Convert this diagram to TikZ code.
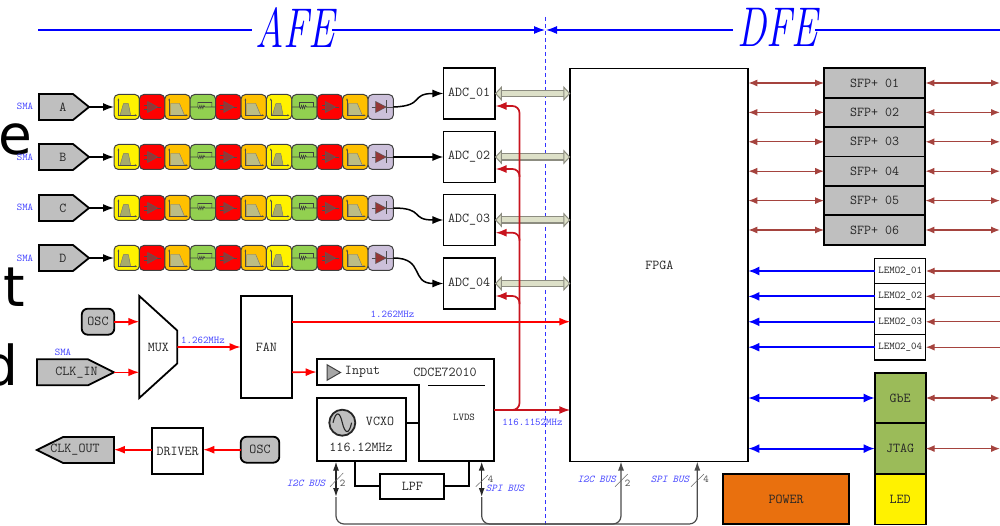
\documentclass[tikz,border=0pt]{standalone}
\usepackage{fontspec}
\usepackage{graphicx}
\usepackage{xcolor}
\usetikzlibrary{arrows.meta, calc, shapes.geometric, shapes.symbols}

\newfontfamily\bigletterfont{DejaVu Sans}

\definecolor{cellorange}{HTML}{FFC000}
\definecolor{cellgreen}{HTML}{92D050}
\definecolor{cellpurple}{HTML}{CCC0DA}
\definecolor{ampred}{HTML}{953735}
\definecolor{linkbrown}{HTML}{A5433E}
\definecolor{adcred}{HTML}{C8141E}
\definecolor{busfill}{HTML}{DDE0C8}
\definecolor{busedge}{HTML}{8C8C80}
\definecolor{boxgray}{HTML}{BFBFBF}
\definecolor{boxgreen}{HTML}{9BBB59}
\definecolor{boxorange}{HTML}{E9700E}
\definecolor{labelblue}{HTML}{4646FF}
\definecolor{bandfill}{HTML}{A6AB6C}
\definecolor{lowfill}{HTML}{BCBD85}

\newcommand{\filterchain}[2]{%
    \node[cellband] (#1f1) at (126.7, #2) {};
    \node[cellamp] (#1f2) at (152.1, #2) {};
    \node[celllow] (#1f3) at (177.5, #2) {};
    \node[cellatt] (#1f4) at (202.9, #2) {};
    \node[cellamp] (#1f5) at (228.3, #2) {};
    \node[celllow] (#1f6) at (253.7, #2) {};
    \node[cellband] (#1f7) at (279.1, #2) {};
    \node[cellatt] (#1f8) at (304.5, #2) {};
    \node[cellamp] (#1f9) at (329.9, #2) {};
    \node[celllow] (#1f10) at (355.3, #2) {};
    \node[cellbalun] (#1f11) at (380.7, #2) {};
}

\begin{document}
\begin{tikzpicture}[
                x = 1pt,
                y = -1pt,
                boxtext/.style = {
                    font = \ttfamily\fontsize{13.6}{14}\selectfont,
                    text = black!85
                },
                smalltext/.style = {
                    font = \ttfamily\fontsize{10.4}{11}\selectfont,
                    text = black!85
                },
                bluetext/.style = {
                    font = \ttfamily\fontsize{10.4}{11}\selectfont,
                    text = labelblue,
                    inner sep = 0pt
                },
                busname/.style = {
                    bluetext,
                    font = \ttfamily\itshape\fontsize{10.4}{11}\selectfont
                },
                buscount/.style = {
                    font = \ttfamily\fontsize{10.4}{11}\selectfont,
                    text = black!70,
                    inner sep = 0pt
                },
                bigletter/.style = {
                    font = \bigletterfont\fontsize{55}{60}\selectfont,
                    anchor = base west,
                    inner sep = 0pt
                },
                titletext/.style = {
                    font = \itshape\fontsize{56}{60}\selectfont,
                    text = blue,
                    inner sep = 0pt
                },
                plainbox/.style = {
                    rectangle,
                    draw = black,
                    fill = white,
                    line width = 1.8pt,
                    inner sep = 0pt,
                    outer sep = 0pt,
                    boxtext
                },
                sfpbox/.style = {
                    plainbox,
                    fill = boxgray,
                    minimum width = 101.3pt,
                    minimum height = 29.4pt
                },
                lemobox/.style = {
                    plainbox,
                    line width = 1.3pt,
                    minimum width = 51pt,
                    minimum height = 25.4pt,
                    smalltext
                },
                stackbox/.style = {
                    plainbox,
                    minimum width = 51pt,
                    minimum height = 50.6pt
                },
                adcbox/.style = {
                    plainbox,
                    minimum width = 51.5pt,
                    minimum height = 51pt
                },
                oscbox/.style = {
                    plainbox,
                    fill = boxgray,
                    rounded corners = 6pt,
                    minimum height = 26pt
                },
                sigbox/.style = {
                    signal,
                    draw = black,
                    fill = boxgray,
                    line width = 1.8pt,
                    inner sep = 0pt,
                    outer sep = 0pt,
                    minimum height = 26pt,
                    boxtext
                },
                sigtext/.style = {boxtext, inner sep = 0pt},
                stagecell/.style = {
                    rectangle,
                    rounded corners = 4.5pt,
                    draw = black!75,
                    line width = 1pt,
                    inner sep = 0pt,
                    outer sep = 0pt,
                    minimum width = 25.4pt,
                    minimum height = 25pt
                },
                iconframe/.style = {sharp corners, shift = {(path picture bounding box.center)}},
                plotaxes/.style = {
                    iconframe,
                    draw = black!70,
                    line width = .5pt,
                    {Latex[length = 2.5pt, width = 2pt]}-{Latex[length = 2.5pt, width = 2pt]}
                },
                cellband/.style = {
                    stagecell,
                    fill = yellow,
                    path picture = {
                        \filldraw[iconframe, fill = bandfill, draw = black!55, line width = .4pt]
                            (-6.7, 8.3) -- (-3.3, -3.3) -- (1.7, -3.3) -- (4, 8.3) -- cycle;
                        \draw[plotaxes] (-8.3, -9) |- (10.7, 8.3);
                    }
                },
                celllow/.style = {
                    stagecell,
                    fill = cellorange,
                    path picture = {
                        \filldraw[iconframe, fill = lowfill, draw = black!55, line width = .4pt]
                            (-7, 8.3) -- (-7, -3.5) -- (2, -3.5) -- (7, 8.3) -- cycle;
                        \draw[plotaxes] (-8.3, -9) |- (10.7, 8.3);
                    }
                },
                cellamp/.style = {
                    stagecell,
                    fill = red,
                    path picture = {
                        \draw[iconframe, black!70, line width = .5pt] (-8, -2) -- (-4.5, -2) (-8, 2) -- (-4.5, 2) (5, 0) -- (9, 0);
                        \filldraw[iconframe, fill = ampred, draw = black!65, line width = .5pt]
                            (-4.5, -5.5) -- (5.5, 0) -- (-4.5, 5.5) -- cycle;
                    }
                },
                cellatt/.style = {
                    stagecell,
                    fill = cellgreen,
                    path picture = {
                        \draw[iconframe, black!75, line width = .6pt]
                            (-13, 0) -- (-5, 0) -- (-4, 1.6) -- (-3, -1.6) -- (-2, 1.6) -- (-1, -1.6) -- (0, 1.6) -- (1, -1.6) -- (2, 0) -- (13, 0)
                            (-5, 0) -- (-5, -4.5) -- (9, -4.5) -- (9, 0);
                    }
                },
                cellbalun/.style = {
                    stagecell,
                    fill = cellpurple,
                    path picture = {
                        \draw[iconframe, black!70, line width = .5pt] (-9, 0) -- (-5, 0) (6, -6.5) -- (6, 6.5) (6, 0) -- (13, 0);
                        \filldraw[iconframe, fill = ampred, draw = black!65, line width = .5pt]
                            (-5, -5.5) -- (5.5, 0) -- (-5, 5.5) -- cycle;
                    }
                },
                rfarrow/.style = {-{Latex[length = 11pt, width = 8pt]}, line width = 1.5pt, black},
                clkarrow/.style = {-{Latex[length = 11pt, width = 8pt]}, line width = 1.6pt, red},
                adcclk/.style = {-{Latex[length = 11pt, width = 8pt]}, line width = 1.7pt, adcred, rounded corners = 7pt},
                datalink/.style = {
                    {Triangle[length = 7pt, width = 15pt, fill = busfill, line width = 1pt]}-{Triangle[length = 7pt, width = 15pt, fill = busfill, line width = 1pt]},
                    draw = busedge,
                    line width = 1.4pt,
                    double = busfill,
                    double distance = 5pt
                },
                brownlink/.style = {
                    {Latex[length = 9pt, width = 7pt]}-{Latex[length = 9pt, width = 7pt]},
                    line width = 1.3pt,
                    linkbrown
                },
                brownin/.style = {
                    -{Latex[length = 9pt, width = 7pt]},
                    line width = 1.3pt,
                    linkbrown
                },
                bluein/.style = {
                    -{Latex[length = 11pt, width = 9pt]},
                    line width = 1.8pt,
                    blue
                },
                bluelink/.style = {
                    {Latex[length = 11pt, width = 9pt]}-{Latex[length = 11pt, width = 9pt]},
                    line width = 1.8pt,
                    blue
                },
                spantip/.style = {
                    -{Latex[length = 11pt, width = 8pt]},
                    line width = 1.2pt,
                    blue
                },
                ctrlend/.style = {
                    {Latex[length = 9pt, width = 6pt]}-{Latex[length = 9pt, width = 6pt]},
                    line width = 1.4pt,
                    black!85
                },
                ctrlbus/.style = {
                    -{Latex[length = 9pt, width = 6pt]},
                    line width = 1.2pt,
                    black!70,
                    rounded corners = 8pt
                },
                busslash/.style = {line width = .5pt, black!60},
                wire/.style = {line width = 1.8pt, black}
            ]

                \useasboundingbox (0, 0) rectangle (1000, 526);

                % letters cut off at the left edge
                \node[bigletter] (lettere) at (-1.4, 155) {e};
                \node[bigletter] (lettert) at (3, 306) {t};
                \node[bigletter] (letterd) at (-16.5, 385) {d};

                % section titles
                \node[titletext] (afe) at (295, 27.5) {\scalebox{0.7}[1]{AFE}};
                \node[titletext] (dfe) at (777.5, 27.5) {\scalebox{0.7}[1]{DFE}};
                \coordinate (afestart) at (38, 30);
                \coordinate (afestop) at (545, 30);
                \coordinate (dfestart) at (546, 30);
                \coordinate (dfestop) at (1000, 30);
                \coordinate (splittop) at (545.5, 17);
                \coordinate (splitbottom) at (545.5, 526);
                \draw[blue, line width = 1.2pt] (afestart) -- (252, 30);
                \draw[spantip] (332, 30) -- (afestop);
                \draw[spantip] (733, 30) -- (dfestart);
                \draw[blue, line width = 1.2pt] (815, 30) -- (dfestop);
                \draw[blue!80, dash pattern = on 4pt off 3pt, line width = .7pt] (splittop) -- (splitbottom);

                % inputs and chains
                \node[bluetext] (smaa) at (25, 106) {SMA};
                \node[bluetext] (smab) at (25, 157) {SMA};
                \node[bluetext] (smac) at (25, 207) {SMA};
                \node[bluetext] (smad) at (25, 258) {SMA};
                \node[sigbox, signal to = east, signal pointer angle = 78, minimum width = 50pt] (inpa) at (56, 107) {};
                \node[sigbox, signal to = east, signal pointer angle = 78, minimum width = 50pt] (inpb) at (56, 157) {};
                \node[sigbox, signal to = east, signal pointer angle = 78, minimum width = 50pt] (inpc) at (56, 208) {};
                \node[sigbox, signal to = east, signal pointer angle = 78, minimum width = 50pt] (inpd) at (56, 258) {};
                \node[sigtext] (inpaname) at (63, 107) {A};
                \node[sigtext] (inpbname) at (63, 157) {B};
                \node[sigtext] (inpcname) at (63, 208) {C};
                \node[sigtext] (inpdname) at (63, 258) {D};

                \filterchain{a}{107}
                \filterchain{b}{157}
                \filterchain{c}{208}
                \filterchain{d}{258}

                \draw[rfarrow] (inpa.east) -- (af1.west);
                \draw[rfarrow] (inpb.east) -- (bf1.west);
                \draw[rfarrow] (inpc.east) -- (cf1.west);
                \draw[rfarrow] (inpd.east) -- (df1.west);

                % ADC column
                \node[adcbox] (adc1) at (469.2, 93.5) {ADC\_01};
                \node[adcbox] (adc2) at (469.2, 157) {ADC\_02};
                \node[adcbox] (adc3) at (469.2, 220) {ADC\_03};
                \node[adcbox] (adc4) at (469.2, 283.5) {ADC\_04};

                \draw[rfarrow] (af11.east) .. controls (425, 106) and (410, 93.5) .. (adc1.west);
                \draw[rfarrow] (bf11.east) -- (adc2.west);
                \draw[rfarrow] (cf11.east) .. controls (425, 208) and (410, 220) .. (adc3.west);
                \draw[rfarrow] (df11.east) .. controls (425, 258) and (410, 283.5) .. (adc4.west);

                % FPGA
                \node[plainbox, minimum width = 178pt, minimum height = 393pt] (fpga) at (659.3, 265) {FPGA};

                \draw[datalink] (adc1.east) -- (adc1.east -| fpga.west);
                \draw[datalink] (adc2.east) -- (adc2.east -| fpga.west);
                \draw[datalink] (adc3.east) -- (adc3.east -| fpga.west);
                \draw[datalink] (adc4.east) -- (adc4.east -| fpga.west);

                % clock section
                \node[oscbox, minimum width = 32.5pt] (osca) at (98, 321.7) {OSC};
                \node[bluetext] (smaclk) at (63, 352.7) {SMA};
                \node[sigbox, signal to = east, signal pointer angle = 53, minimum width = 77pt] (clkin) at (62.5, 372.3) {};
                \node[sigtext] (clkinname) at (76.5, 372.3) {CLK\_IN};
                \node[trapezium, draw = black, fill = white, line width = 1.8pt, inner sep = 0pt, outer sep = 0pt,
                      trapezium angle = 67, shape border rotate = 270, trapezium stretches = true,
                      minimum width = 102pt, minimum height = 38pt, boxtext] (mux) at (158.3, 347) {MUX};
                \node[plainbox, minimum width = 51.3pt, minimum height = 102pt] (fan) at (266.3, 347) {FAN};
                \coordinate (muxina) at (139.3, 321.7);
                \coordinate (muxinb) at (139.3, 372.3);
                \coordinate (fanouta) at (292, 321.7);
                \coordinate (fanoutb) at (292, 372.3);
                \draw[clkarrow] (osca.east) -- (muxina);
                \draw[clkarrow] (clkin.east) -- (muxinb);
                \draw[clkarrow] (mux.east) -- (fan.west);
                \node[bluetext] (muxrate) at (203, 340) {1.262MHz};
                \draw[clkarrow] (fanouta) -- (fanouta -| fpga.west);
                \node[bluetext] (fanrate) at (392.5, 314) {1.262MHz};

                \node[plainbox, minimum width = 51.3pt, minimum height = 46pt] (driver) at (177.6, 451) {DRIVER};
                \node[oscbox, minimum width = 38.6pt] (oscb) at (260, 449.7) {OSC};
                \node[sigbox, signal to = west, signal pointer angle = 53, minimum width = 77pt] (clkout) at (88.5, 450) {};
                \node[sigtext] (clkoutname) at (75, 450) {CLK\_OUT};
                \draw[clkarrow] (oscb.west) -- (oscb.west -| driver.east);
                \draw[clkarrow] (driver.west |- oscb.west) -- (oscb.west -| clkout.east);

                % clock chip
                \draw[wire, fill = white] (316.7, 359.3) -- (494.3, 359.3) -- (494.3, 461.3) -- (418.7, 461.3) -- (418.7, 385) -- (316.7, 385) -- cycle;
                \coordinate (cdcein) at (316.7, 372);
                \coordinate (lvdsout) at (494.3, 410);
                \coordinate (lvdsin) at (418.7, 422.7);
                \coordinate (lvdslpf) at (469, 461.3);
                \draw[clkarrow] (fanoutb) -- (cdcein);
                \draw[black, line width = .6pt] (428, 385) -- (485, 385);
                \node[regular polygon, regular polygon sides = 3, shape border rotate = 270, draw = black!75, fill = black!35, line width = 1pt,
                      inner sep = 0pt, minimum size = 18pt] (inputamp) at (331.5, 372.5) {};
                \node[boxtext, inner sep = 0pt] (inputname) at (362.5, 372) {Input};
                \node[boxtext, inner sep = 0pt] (cdcename) at (445, 372) {CDCE72010};
                \node[smalltext, inner sep = 0pt] (lvdsname) at (464, 417) {LVDS};

                \node[plainbox, minimum width = 89.3pt, minimum height = 63.6pt] (vcxo) at (361.3, 429.5) {};
                \node[circle, draw = black!85, fill = boxgray, line width = 1.8pt, minimum size = 26pt, inner sep = 0pt] (vcxosine) at (342.3, 422.7) {};
                \draw[black!85, line width = 1.1pt] (333, 422.7) .. controls (336, 410) and (340, 412) .. (342.3, 422.7) .. controls (345, 434) and (349, 435) .. (351.6, 422.7);
                \node[boxtext, inner sep = 0pt] (vcxoname) at (380, 421.7) {VCXO};
                \node[boxtext, inner sep = 0pt] (vcxorate) at (361, 447.7) {116.12MHz};
                \draw[wire] (vcxo.east |- lvdsin) -- (lvdsin);

                \node[plainbox, minimum width = 64pt, minimum height = 25pt] (lpf) at (412.3, 486.2) {LPF};
                \coordinate (vcxolpf) at (355, 461.3);
                \draw[wire] (vcxolpf) |- (lpf.west);
                \draw[wire] (lvdslpf) |- (lpf.east);

                % sampling clock to ADCs and FPGA
                \coordinate (clkbus) at (519.5, 410);
                \coordinate (adc1clk) at (495.5, 106);
                \coordinate (adc2clk) at (495.5, 169);
                \coordinate (adc3clk) at (495.5, 232.7);
                \coordinate (adc4clk) at (495.5, 296);
                \draw[adcclk] (lvdsout) -- (clkbus) |- (adc1clk);
                \draw[adcclk] ($(clkbus |- adc2clk) + (0, 8)$) |- (adc2clk);
                \draw[adcclk] ($(clkbus |- adc3clk) + (0, 8)$) |- (adc3clk);
                \draw[adcclk] ($(clkbus |- adc4clk) + (0, 8)$) |- (adc4clk);
                \draw[adcclk] (lvdsout) -- (lvdsout -| fpga.west);
                \node[bluetext] (lvdsrate) at (532.5, 422.5) {116.1152MHz};

                % control buses
                \coordinate (i2ctop) at (336, 461.5);
                \coordinate (i2cfoot) at (336, 497);
                \coordinate (spitop) at (481.7, 461.5);
                \coordinate (spifoot) at (481.7, 497);
                \coordinate (i2crail) at (621, 524);
                \coordinate (spirail) at (697.3, 524);
                \coordinate (i2cfpga) at (621, 461.5);
                \coordinate (spifpga) at (697.3, 461.5);
                \draw[ctrlend] (i2ctop) -- (i2cfoot);
                \draw[ctrlend] (spitop) -- (spifoot);
                \draw[ctrlbus] (i2cfoot) |- (i2crail) -- (i2cfpga);
                \draw[ctrlbus] (spifoot) |- (spirail) -- (spifpga);

                \draw[busslash] (330, 486.7) -- (343.3, 473);
                \draw[busslash] (475.7, 486.7) -- (488, 475);
                \draw[busslash] (615, 486.7) -- (627.7, 474);
                \draw[busslash] (691, 486.7) -- (704, 474);
                \node[busname] (i2cleft) at (306, 483) {I2C BUS};
                \node[buscount] (i2cleftn) at (342.5, 483) {2};
                \node[busname] (spileft) at (505, 488) {SPI BUS};
                \node[buscount] (spileftn) at (490.7, 479) {4};
                \node[busname] (i2cright) at (596.7, 479.3) {I2C BUS};
                \node[buscount] (i2crightn) at (627.7, 483) {2};
                \node[busname] (spiright) at (670, 479.3) {SPI BUS};
                \node[buscount] (spirightn) at (706, 479.3) {4};

                % SFP column
                \node[sfpbox] (sfp1) at (874.7, 83) {SFP+ 01};
                \node[sfpbox] (sfp2) at (874.7, 112.4) {SFP+ 02};
                \node[sfpbox] (sfp3) at (874.7, 141.8) {SFP+ 03};
                \node[sfpbox] (sfp4) at (874.7, 171.2) {SFP+ 04};
                \node[sfpbox] (sfp5) at (874.7, 200.6) {SFP+ 05};
                \node[sfpbox] (sfp6) at (874.7, 230) {SFP+ 06};
                \coordinate (sfp1edge) at (1000, 83);
                \coordinate (sfp2edge) at (1000, 112.4);
                \coordinate (sfp3edge) at (1000, 141.8);
                \coordinate (sfp4edge) at (1000, 171.2);
                \coordinate (sfp5edge) at (1000, 200.6);
                \coordinate (sfp6edge) at (1000, 230);
                \draw[brownlink] (sfp1.west -| fpga.east) -- (sfp1.west);
                \draw[brownlink] (sfp2.west -| fpga.east) -- (sfp2.west);
                \draw[brownlink] (sfp3.west -| fpga.east) -- (sfp3.west);
                \draw[brownlink] (sfp4.west -| fpga.east) -- (sfp4.west);
                \draw[brownlink] (sfp5.west -| fpga.east) -- (sfp5.west);
                \draw[brownlink] (sfp6.west -| fpga.east) -- (sfp6.west);
                \draw[brownlink] (sfp1.east) -- (sfp1edge);
                \draw[brownlink] (sfp2.east) -- (sfp2edge);
                \draw[brownlink] (sfp3.east) -- (sfp3edge);
                \draw[brownlink] (sfp4.east) -- (sfp4edge);
                \draw[brownlink] (sfp5.east) -- (sfp5edge);
                \draw[brownlink] (sfp6.east) -- (sfp6edge);

                % LEMO column
                \node[lemobox] (lemo1) at (900.2, 271) {LEMO2\_01};
                \node[lemobox] (lemo2) at (900.2, 296.4) {LEMO2\_02};
                \node[lemobox] (lemo3) at (900.2, 321.8) {LEMO2\_03};
                \node[lemobox] (lemo4) at (900.2, 347.2) {LEMO2\_04};
                \coordinate (lemo1edge) at (1000, 271);
                \coordinate (lemo2edge) at (1000, 296.4);
                \coordinate (lemo3edge) at (1000, 321.8);
                \coordinate (lemo4edge) at (1000, 347.2);
                \draw[bluein] (lemo1.west) -- (lemo1.west -| fpga.east);
                \draw[bluein] (lemo2.west) -- (lemo2.west -| fpga.east);
                \draw[bluein] (lemo3.west) -- (lemo3.west -| fpga.east);
                \draw[bluein] (lemo4.west) -- (lemo4.west -| fpga.east);
                \draw[brownin] (lemo1edge) -- (lemo1.east);
                \draw[brownin] (lemo2edge) -- (lemo2.east);
                \draw[brownin] (lemo3edge) -- (lemo3.east);
                \draw[brownin] (lemo4edge) -- (lemo4.east);

                % bottom right blocks
                \node[stackbox, fill = boxgreen] (gbe) at (900.2, 398) {GbE};
                \node[stackbox, fill = boxgreen] (jtag) at (900.2, 448.6) {JTAG};
                \node[stackbox, fill = yellow] (led) at (900.2, 499.2) {LED};
                \node[plainbox, fill = boxorange, minimum width = 126.6pt, minimum height = 50.6pt] (power) at (786, 499) {POWER};
                \coordinate (gbeedge) at (1000, 398);
                \coordinate (jtagedge) at (1000, 448.6);
                \draw[bluelink] (gbe.west -| fpga.east) -- (gbe.west);
                \draw[bluelink] (jtag.west -| fpga.east) -- (jtag.west);
                \draw[brownlink] (gbe.east) -- (gbeedge);
                \draw[brownlink] (jtag.east) -- (jtagedge);
            \end{tikzpicture}
\end{document}
